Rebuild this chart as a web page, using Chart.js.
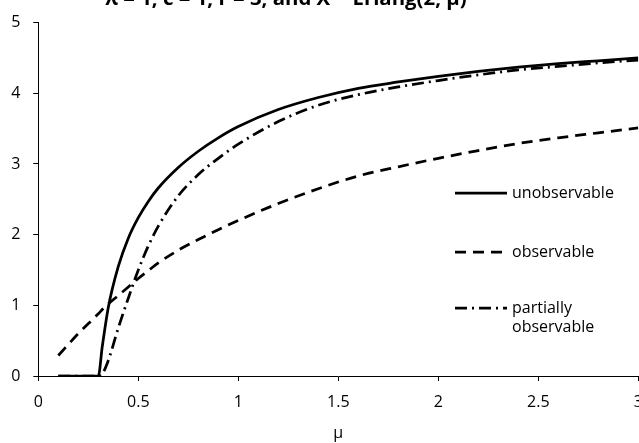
<!DOCTYPE html>
<html>
<head>
<meta charset="utf-8">
<script src="https://cdn.jsdelivr.net/npm/chart.js@4/dist/chart.umd.min.js"></script>
<style>
  html, body { margin: 0; padding: 0; background: #fff; overflow: hidden; }
  #wrap { position: relative; width: 660px; height: 443px; }
</style>
</head>
<body>
<div id="wrap"><canvas id="chart"></canvas></div>
<script>
// values
const mu = [0.1, 0.2, 0.3, 0.32, 0.35, 0.4, 0.45, 0.5, 0.55, 0.6, 0.7, 0.8, 0.9, 1.0,
            1.2, 1.4, 1.6, 1.8, 2.0, 2.2, 2.4, 2.6, 2.8, 3.0];
const unobservable = [0, 0, 0, 0.42, 0.97, 1.55, 1.95, 2.24, 2.47, 2.66, 2.95, 3.18, 3.37, 3.53,
                      3.77, 3.94, 4.07, 4.16, 4.24, 4.31, 4.37, 4.42, 4.46, 4.50];
const observable = [0.29, 0.6, 0.88, 0.94, 1.02, 1.14, 1.26, 1.38, 1.49, 1.6, 1.78, 1.93, 2.07, 2.20,
                    2.44, 2.65, 2.83, 2.96, 3.08, 3.19, 3.29, 3.37, 3.44, 3.51];
const partial = [0, 0, 0, 0.03, 0.22, 0.68, 1.1, 1.5, 1.84, 2.12, 2.55, 2.85, 3.08, 3.28,
                 3.60, 3.83, 3.98, 4.09, 4.18, 4.26, 4.33, 4.38, 4.43, 4.47];
const seriesNames = ['unobservable', 'observable', 'partially\nobservable'];
const xTicks = [0, 0.5, 1, 1.5, 2, 2.5, 3];
const yTicks = [0, 1, 2, 3, 4, 5];
const titleText = 'λ = 1, c = 1, r = 3, and X ~ Erlang(2, μ)';

const FONT = '"Open Sans", Lato, sans-serif';

function pts(ys) {
  return mu.map((m, i) => ({ x: m, y: ys[i] }));
}

function line(label, ys, dash) {
  return {
    label: label,
    data: pts(ys),
    borderColor: '#000',
    borderWidth: 2.75,
    borderDash: dash,
    pointRadius: 0,
    fill: false,
    cubicInterpolationMode: 'monotone'
  };
}

// legend and cut-off title drawn inside the plot like the reference
const overlay = {
  id: 'overlay',
  afterDraw(chart) {
    const ctx = chart.ctx;
    ctx.save();
    ctx.fillStyle = '#000';
    ctx.font = 'bold 16px ' + FONT;
    const size = 16 * 362 / ctx.measureText(titleText).width;
    ctx.font = 'bold ' + size.toFixed(1) + 'px ' + FONT;
    ctx.textAlign = 'center';
    ctx.textBaseline = 'alphabetic';
    ctx.fillText(titleText, 286, 5);

    const rows = [193, 252, 308];
    ctx.font = '16px ' + FONT;
    ctx.textAlign = 'left';
    ctx.textBaseline = 'middle';
    chart.data.datasets.forEach((ds, i) => {
      const y = rows[i];
      ctx.strokeStyle = ds.borderColor;
      ctx.lineWidth = ds.borderWidth;
      ctx.setLineDash(ds.borderDash || []);
      ctx.beginPath();
      ctx.moveTo(455, y);
      ctx.lineTo(507, y);
      ctx.stroke();
      ds.label.split('\n').forEach((t, k) => {
        ctx.fillText(t, 512, y + k * 19);
      });
    });
    ctx.restore();
  }
};

new Chart(document.getElementById('chart'), {
  type: 'line',
  data: {
    datasets: [
      line(seriesNames[0], unobservable, []),
      line(seriesNames[1], observable, [11, 7]),
      line(seriesNames[2], partial, [12, 5, 2, 5])
    ]
  },
  options: {
    responsive: true,
    maintainAspectRatio: false,
    animation: false,
    layout: { padding: { left: 0, right: 21.7, top: 13.5, bottom: 0 } },
    plugins: {
      legend: { display: false },
      tooltip: { enabled: false }
    },
    scales: {
      x: {
        type: 'linear',
        min: 0,
        max: 3,
        afterFit(s) { s.height = 67; },
        afterBuildTicks(s) { s.ticks = xTicks.map(v => ({ value: v })); },
        border: { display: true, color: '#000', width: 1 },
        grid: { drawOnChartArea: false, drawTicks: true, tickLength: 5, color: '#000' },
        ticks: { color: '#000', font: { family: FONT, size: 16 }, padding: 12, maxRotation: 0,
                 callback: v => String(v) },
        title: { display: true, text: 'μ', color: '#000', font: { family: FONT, size: 16 }, padding: { top: 0, bottom: 0 } }
      },
      y: {
        min: 0,
        max: 5,
        afterFit(s) { s.width = 38.3; },
        afterBuildTicks(s) { s.ticks = yTicks.map(v => ({ value: v })); },
        border: { display: true, color: '#000', width: 1 },
        grid: { drawOnChartArea: false, drawTicks: true, tickLength: 5, color: '#000' },
        ticks: { color: '#000', font: { family: FONT, size: 16 }, padding: 13, callback: v => String(v) }
      }
    }
  },
  plugins: [overlay]
});
</script>
</body>
</html>
